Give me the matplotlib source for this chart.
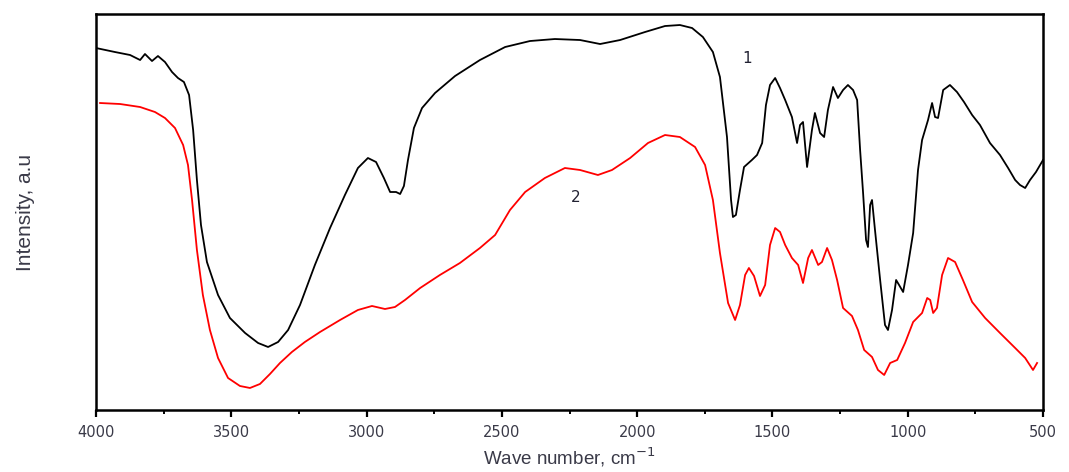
import numpy as np
import matplotlib
matplotlib.use("Agg")
from matplotlib import pyplot as plt
from matplotlib.ticker import MultipleLocator

# spectrum 1 (black): wave number, intensity (a.u.)
wn1 = [4000, 3930, 3874, 3837, 3819, 3793, 3771, 3745, 3719, 3697, 3675, 3656,
       3641, 3627, 3612, 3590, 3549, 3505, 3449, 3401, 3364, 3327, 3290, 3246,
       3191, 3135, 3080, 3032, 2995, 2965, 2936, 2913, 2891, 2876, 2862, 2847,
       2825, 2795, 2747, 2673, 2581, 2488, 2396, 2304, 2211, 2137, 2063, 1971,
       1897, 1842, 1797, 1757, 1720, 1694, 1668, 1653, 1646, 1635, 1620, 1605,
       1576, 1557, 1538, 1524, 1509, 1490, 1472, 1453, 1428, 1409, 1398, 1387,
       1372, 1354, 1343, 1324, 1309, 1295, 1276, 1258, 1239, 1221, 1202, 1187,
       1176, 1165, 1154, 1147, 1139, 1132, 1121, 1102, 1084, 1073, 1058, 1043,
       1032, 1017, 999, 980, 962, 947, 925, 910, 899, 888, 869, 844, 818, 792,
       762, 733, 696, 659, 629, 603, 585, 566, 548, 526, 500]
int1 = [362, 358, 355, 350, 356, 349, 354, 348, 338, 332, 328, 315,
        280, 230, 185, 148, 115, 92, 77, 67, 63, 68, 80, 105,
        145, 182, 215, 242, 252, 248, 232, 218, 218, 216, 224, 250,
        282, 302, 317, 334, 350, 363, 369, 371, 370, 366, 370, 378,
        384, 385, 382, 373, 358, 333, 273, 210, 193, 195, 220, 243,
        250, 255, 267, 305, 325, 332, 322, 310, 293, 267, 285, 288,
        243, 280, 297, 277, 273, 300, 323, 312, 320, 325, 320, 310,
        260, 217, 170, 163, 205, 210, 180, 130, 85, 80, 100, 130,
        125, 118, 145, 177, 240, 270, 290, 307, 293, 292, 320, 325, 318, 308,
        295, 285, 267, 255, 242, 230, 225, 222, 230, 238, 250]

# spectrum 2 (red)
wn2 = [3985, 3911, 3837, 3782, 3745, 3708, 3678, 3660, 3645, 3627, 3605, 3579,
       3549, 3512, 3468, 3431, 3394, 3357, 3320, 3276, 3228, 3172, 3098, 3032,
       2980, 2932, 2895, 2858, 2802, 2729, 2655, 2581, 2525, 2470, 2414, 2341,
       2267, 2211, 2145, 2093, 2026, 1960, 1897, 1842, 1786, 1749, 1720, 1694,
       1664, 1638, 1620, 1601, 1587, 1568, 1546, 1527, 1509, 1490, 1472, 1453,
       1428, 1405, 1387, 1368, 1354, 1331, 1317, 1298, 1280, 1261, 1239, 1206,
       1184, 1161, 1132, 1110, 1087, 1065, 1039, 1010, 980, 947, 928, 917,
       906, 892, 873, 851, 825, 796, 762, 714, 659, 603, 566, 537, 522]
int2 = [307, 306, 303, 298, 292, 282, 265, 245, 210, 160, 115, 80,
        52, 32, 24, 22, 26, 36, 47, 58, 68, 78, 90, 100,
        104, 101, 103, 110, 122, 135, 147, 162, 175, 200, 218, 232,
        242, 240, 235, 240, 252, 267, 275, 273, 263, 245, 210, 157,
        107, 90, 105, 135, 142, 134, 114, 125, 165, 182, 178, 165,
        152, 145, 127, 152, 160, 145, 148, 162, 150, 130, 102, 94,
        80, 60, 53, 40, 35, 47, 50, 67, 88, 97, 112, 110,
        97, 102, 135, 152, 148, 130, 108, 92, 77, 62, 52, 40, 47]

xticks = [4000, 3500, 3000, 2500, 2000, 1500, 1000, 500]

fig = plt.figure(figsize=(10.69, 4.72), dpi=100)
ax = fig.add_axes([0.0898, 0.1314, 0.8859, 0.8389])

ax.plot(wn1, int1, color='black', lw=1.3)
ax.plot(wn2, int2, color='#ff0000', lw=1.3)

ax.text(1594, 352, '1', fontsize=11, color='#222233', ha='center', va='center')
ax.text(2226, 213, '2', fontsize=11, color='#222233', ha='center', va='center')

ax.set_xlim(4000, 500)
ax.set_ylim(0, 396)
ax.set_xticks(xticks)
ax.xaxis.set_minor_locator(MultipleLocator(250))
ax.set_yticks([])
ax.tick_params(axis='x', which='major', direction='out', length=5, width=1.6,
               labelsize=10.5, labelcolor='#3a3a48', pad=6)
ax.tick_params(axis='x', which='minor', direction='out', length=3, width=1.4)
for s in ax.spines.values():
    s.set_linewidth(1.8)

ax.set_xlabel('Wave number, cm$^{-1}$', fontsize=13.5, color='#3a3a48',
              family='Liberation Sans', labelpad=4)
ax.set_ylabel('Intensity, a.u', fontsize=15, color='#3a3a48',
              family='Liberation Sans', labelpad=44)

fig.savefig('out.png', dpi=100)
